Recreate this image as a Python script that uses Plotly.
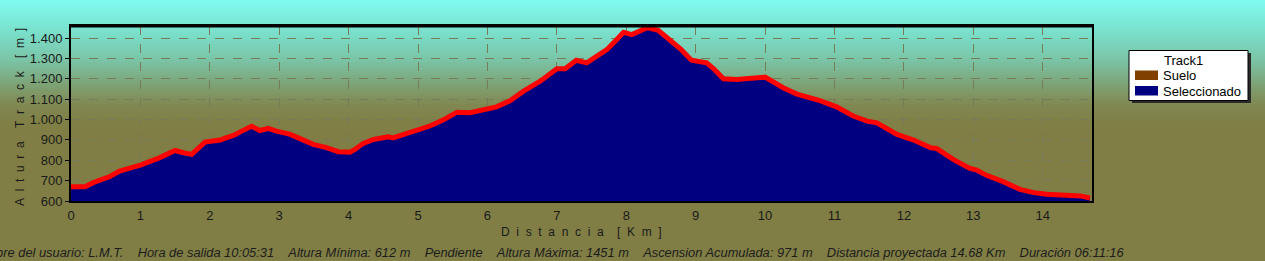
import plotly.graph_objects as go

# ---------------- data ----------------
distance_km = [0, 0.2, 0.32, 0.56, 0.7, 1.0, 1.28, 1.5, 1.62, 1.74, 1.93, 2.15, 2.24, 2.34, 2.46,
               2.6, 2.72, 2.84, 2.96, 3.16, 3.3, 3.49, 3.68, 3.85, 4.02, 4.09, 4.21, 4.36, 4.57,
               4.64, 4.84, 5.03, 5.17, 5.36, 5.56, 5.75, 5.94, 6.13, 6.33, 6.52, 6.76, 6.9, 7.0,
               7.12, 7.28, 7.43, 7.57, 7.72, 7.86, 7.96, 8.08, 8.2, 8.3, 8.46, 8.58, 8.78, 8.94,
               9.16, 9.26, 9.4, 9.59, 9.93, 10.0, 10.26, 10.46, 10.79, 11.03, 11.27, 11.47, 11.61,
               11.9, 12.14, 12.38, 12.47, 12.71, 12.95, 13.05, 13.19, 13.43, 13.67, 13.87, 14.06,
               14.35, 14.54, 14.68]
altitude_m = [670, 670, 690, 720, 747, 776, 813, 848, 837, 829, 889, 899, 911, 922, 943,
              967, 946, 956, 943, 927, 906, 878, 862, 842, 840, 853, 883, 902, 915,
              910, 932, 951, 968, 997, 1036, 1033, 1049, 1062, 1093, 1139, 1188, 1221, 1249,
              1249, 1291, 1278, 1308, 1343, 1392, 1428, 1417, 1438, 1451, 1438, 1406, 1347, 1291,
              1278, 1249, 1200, 1196, 1201, 1208, 1156, 1125, 1093, 1062, 1017, 992, 984,
              927, 899, 862, 858, 804, 760, 752, 726, 695, 657, 641, 633,
              629, 625, 615]
x_tick_values = list(range(0, 15))
y_tick_values = [600, 700, 800, 900, 1000, 1100, 1200, 1300, 1400]
legend_title = "Track1"
legend_labels = ["Suelo", "Seleccionado"]
legend_colors = ["#804000", "#000080"]
x_title = "Distancia [Km]"
y_title = "Altura Track [m]"
info_items = ["Nombre del usuario: L.M.T.", "Hora de salida 10:05:31", "Altura Mínima: 612 m",
              "Pendiente", "Altura Máxima: 1451 m", "Ascension Acumulada: 971 m",
              "Distancia proyectada 14.68 Km", "Duración 06:11:16"]

# ---------------- geometry helpers ----------------
W, H = 1265, 261
L, R, T, B = 71, 1092, 26, 201


def px(x):
    return (x - L) / (R - L)


def py(y):
    return (B - y) / (B - T)


def spaced(s, gap="\u00a0\u00a0", word_gap="\u00a0\u00a0\u00a0\u00a0"):
    words = s.split(" ")
    return word_gap.join(gap.join(list(w)) for w in words)


NBSP = "\u00a0"

fig = go.Figure()
fig.add_trace(go.Scatter(
    x=distance_km, y=altitude_m, mode="lines", fill="tozeroy",
    fillcolor="#000080", line=dict(color="#ff0000", width=5),
    showlegend=False, name="Track1"))

shapes = []
# gradient background (cyan -> olive)
stops = [(0, (128, 250, 240)), (30, (122, 226, 206)), (60, (122, 196, 166)),
         (85, (126, 162, 116)), (105, (128, 136, 82)), (122, (128, 127, 70)), (140, (128, 126, 68))]


def col_at(y):
    for (y0, c0), (y1, c1) in zip(stops[:-1], stops[1:]):
        if y0 <= y <= y1:
            f = (y - y0) / (y1 - y0)
            return tuple(round(a + (b - a) * f) for a, b in zip(c0, c1))
    return stops[-1][1]


step = 2
for y in range(0, 140, step):
    c = col_at(y + step / 2)
    shapes.append(dict(type="rect", xref="paper", yref="paper", layer="below",
                       x0=px(0), x1=px(W), y0=py(y + step + 0.5), y1=py(y),
                       fillcolor="rgb(%d,%d,%d)" % c, line=dict(width=0)))

# thicker top border of plot area
shapes.append(dict(type="line", xref="paper", yref="paper", x0=0, x1=1, y0=1, y1=1,
                   line=dict(color="black", width=3)))

# legend box
shapes.append(dict(type="rect", xref="paper", yref="paper", x0=px(1132), x1=px(1251),
                   y0=py(103), y1=py(53), fillcolor="#2a2a2a", line=dict(width=0)))
shapes.append(dict(type="rect", xref="paper", yref="paper", x0=px(1129), x1=px(1248),
                   y0=py(100.5), y1=py(50.5), fillcolor="white", line=dict(color="black", width=1)))
sw_y = [(70.5, 80), (86, 95.5)]
for (y0, y1), c in zip(sw_y, legend_colors):
    shapes.append(dict(type="rect", xref="paper", yref="paper", x0=px(1135), x1=px(1158),
                       y0=py(y1), y1=py(y0), fillcolor=c, line=dict(width=0)))

annotations = []
lg_font = dict(family="Liberation Sans, Arial, sans-serif", size=13, color="black")
annotations.append(dict(text=legend_title, xref="paper", yref="paper", x=px(1183), y=py(60),
                        xanchor="center", yanchor="middle", showarrow=False, font=lg_font))
for lab, yc in zip(legend_labels, [75.5, 91]):
    annotations.append(dict(text=lab, xref="paper", yref="paper", x=px(1160.5), y=py(yc),
                            xanchor="left", yanchor="middle", showarrow=False, font=lg_font))

# axis titles
annotations.append(dict(text=spaced(x_title), xref="paper", yref="paper", x=px(581), y=py(232),
                        xanchor="center", yanchor="middle", showarrow=False,
                        font=dict(family="Liberation Sans, Arial, sans-serif", size=12, color="#1a1a1a")))
annotations.append(dict(text=spaced(y_title), xref="paper", yref="paper", x=px(20), y=py(117),
                        xanchor="center", yanchor="middle", showarrow=False, textangle=-90,
                        font=dict(family="Liberation Sans, Arial, sans-serif", size=12, color="#1a1a1a")))

# info line (cut at the left edge, as in the original)
info = (NBSP * 4).join(info_items)
annotations.append(dict(text=info, xref="paper", yref="paper", x=px(1126), y=py(252),
                        xanchor="right", yanchor="middle", showarrow=False,
                        font=dict(family="Liberation Sans, Arial, sans-serif", size=12.85,
                                  color="#1c1c1c", style="italic")))

fig.update_layout(
    width=W, height=H,
    margin=dict(l=L, r=W - R, t=T, b=H - B, pad=0),
    paper_bgcolor="rgb(128,126,68)",
    plot_bgcolor="rgba(0,0,0,0)",
    separators=",.",
    showlegend=False,
    shapes=shapes,
    annotations=annotations,
    xaxis=dict(range=[0, 14.71], tickvals=x_tick_values, showgrid=True,
               gridcolor="rgb(118,124,88)", griddash="dash", gridwidth=1,
               showline=True, linecolor="black", linewidth=2, mirror=True, zeroline=False,
               ticks="outside", ticklen=1, tickcolor="rgba(0,0,0,0)",
               tickfont=dict(family="Liberation Sans Narrow, Arial Narrow, Liberation Sans, sans-serif",
                             size=13, color="#1a1a1a")),
    yaxis=dict(range=[600, 1459], tickvals=y_tick_values, tickformat=",d", showgrid=True,
               gridcolor="rgb(118,124,88)", griddash="dash", gridwidth=1,
               showline=True, linecolor="black", linewidth=2, mirror=True, zeroline=False,
               ticks="outside", ticklen=4, tickcolor="black",
               tickfont=dict(family="Liberation Sans, Arial, sans-serif", size=13, color="#1a1a1a")),
)

fig.write_html("out.html")
